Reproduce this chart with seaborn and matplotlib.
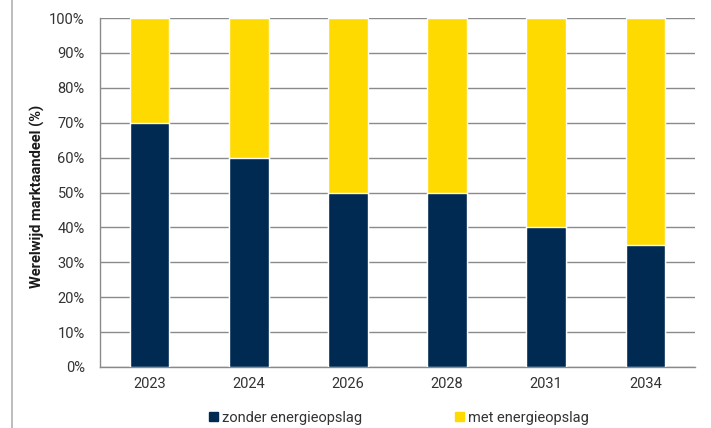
import matplotlib
matplotlib.use("Agg")
import matplotlib.pyplot as plt
import matplotlib.patches as mpatches
from matplotlib.lines import Line2D
from matplotlib.ticker import PercentFormatter
import seaborn as sns
import pandas as pd

years = ["2023", "2024", "2026", "2028", "2031", "2034"]
zonder = [70, 60, 50, 50, 40, 35]
met = [30, 40, 50, 50, 60, 65]

navy = "#002a52"
yellow = "#ffda00"
text_col = "#333333"

sns.set_theme(style="white")
plt.rcParams["font.family"] = ["Roboto", "DejaVu Sans"]

df = pd.DataFrame({"jaar": years, "zonder": zonder, "met": met})
df["totaal"] = df["zonder"] + df["met"]

fig = plt.figure(figsize=(7.11, 4.28), dpi=100)
ax = fig.add_axes([100 / 711, 1 - 367 / 428, 595 / 711, 349 / 428])

sns.barplot(data=df, x="jaar", y="totaal", color=yellow, width=0.4,
            saturation=1, ax=ax, zorder=3)
sns.barplot(data=df, x="jaar", y="zonder", color=navy, width=0.4,
            saturation=1, ax=ax, zorder=3)

ax.set_ylim(0, 100)
ax.set_xlim(-0.5, len(years) - 0.5)
ax.set_yticks(range(0, 101, 10))
ax.yaxis.set_major_formatter(PercentFormatter(decimals=0))
ax.grid(axis="y", color="#8a8a8a", linewidth=1, zorder=0)
ax.set_axisbelow(True)
for side in ["top", "right"]:
    ax.spines[side].set_visible(False)
ax.spines["left"].set_color("#8a8a8a")
ax.spines["bottom"].set_color("#8a8a8a")
ax.spines["left"].set_linewidth(1)
ax.spines["bottom"].set_linewidth(1)

ax.tick_params(axis="y", length=0, pad=11, labelsize=10.5, labelcolor=text_col)
ax.tick_params(axis="x", length=0, pad=7, labelsize=10.5, labelcolor=text_col)
ax.set_xlabel("")
ax.set_ylabel("Werelwijd marktaandeel (%)", fontsize=10.5, fontweight="bold",
              color="#1a1a1a")
ax.yaxis.set_label_coords(-0.0924, 0.49)

handles = [mpatches.Patch(color=navy, label="zonder energieopslag"),
           mpatches.Patch(color=yellow, label="met energieopslag")]
fig.legend(handles=handles, loc="center", bbox_to_anchor=(399 / 711, 1 - 418 / 428),
           ncol=2, frameon=False, fontsize=10.5, labelcolor=text_col,
           handlelength=0.6, handleheight=0.6, handletextpad=0.25,
           columnspacing=6.4)

fig.add_artist(Line2D([12 / 711, 12 / 711], [0, 1], color="#b0b0b0",
                      linewidth=1.2, transform=fig.transFigure))

fig.savefig("out.png", dpi=100)
